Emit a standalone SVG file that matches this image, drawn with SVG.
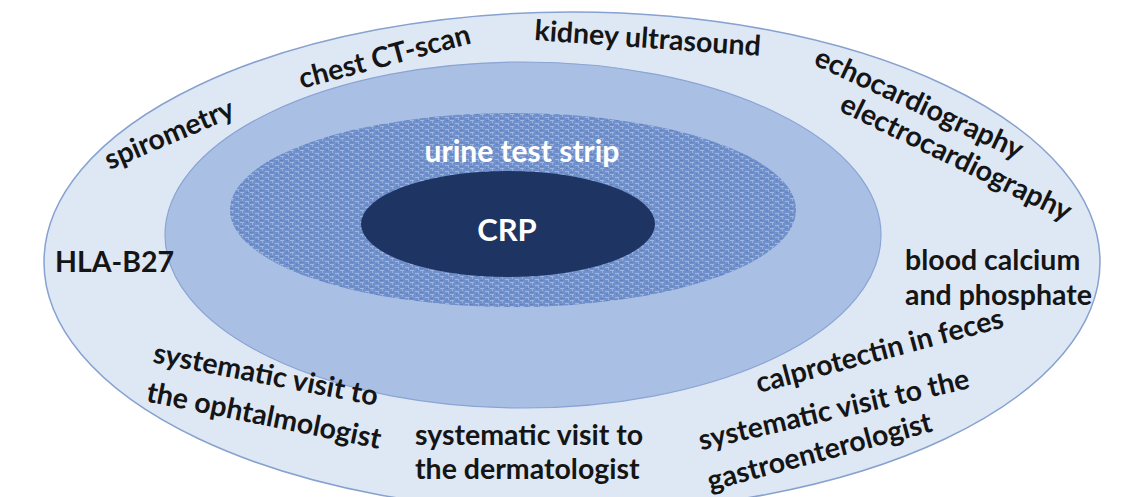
<svg xmlns="http://www.w3.org/2000/svg" width="1138" height="497" viewBox="0 0 1138 497">
<style>
.lbl{font-family:Lato,Carlito,"Open Sans",sans-serif;font-weight:bold;font-size:28.5px;fill:#151515}
.wht{font-family:Lato,Carlito,"Open Sans",sans-serif;font-weight:bold;fill:#ffffff}
.mid{text-anchor:middle}
</style>
<defs>
<pattern id="tex" width="10" height="6" patternUnits="userSpaceOnUse">
<rect width="10" height="6" fill="#7191cc"/>
<rect x="0" y="0" width="4" height="1" fill="#a0b6e2"/>
<rect x="5" y="3" width="4" height="1" fill="#a0b6e2"/>
<rect x="2" y="1" width="1" height="2" fill="#94aedd"/>
<rect x="8" y="4" width="1" height="2" fill="#94aedd"/>
<rect x="6" y="0" width="2" height="1" fill="#6182bf"/>
<rect x="0" y="4" width="3" height="1" fill="#6182bf"/>
</pattern>
</defs>
<rect width="1138" height="497" fill="#ffffff"/>
<g id="ring-outer">
<ellipse cx="572" cy="262" rx="528" ry="250" fill="#dee8f5" stroke="#87a2cf" stroke-width="1.5"/>
</g>
<g id="ring-middle">
<ellipse cx="523" cy="235" rx="358" ry="173" fill="#aabfe4" stroke="#8aa4d4" stroke-width="1.2"/>
</g>
<g id="ring-inner">
<ellipse cx="513" cy="210" rx="283" ry="97" fill="url(#tex)"/>
<text class="wht mid" x="522" y="162" font-size="30">urine test strip</text>
</g>
<g id="core">
<ellipse cx="508" cy="224" rx="147" ry="53" fill="#1e3462"/>
<text class="wht mid" x="507" y="241" font-size="31">CRP</text>
</g>
<g id="labels">
<text class="lbl mid" transform="translate(173,143) rotate(-23)">spirometry</text>
<text class="lbl mid" transform="translate(387,66) rotate(-15)">chest CT-scan</text>
<text class="lbl mid" transform="translate(647,48) rotate(4)">kidney ultrasound</text>
<text class="lbl mid" transform="translate(915,112) rotate(25)">echocardiography</text>
<text class="lbl mid" transform="translate(952,166) rotate(26)">electrocardiography</text>
<text class="lbl" x="55" y="272" font-size="27">HLA-B27</text>
<text class="lbl" x="905" y="270">blood calcium</text>
<text class="lbl" x="905" y="305">and phosphate</text>
<text class="lbl mid" transform="translate(882,360) rotate(-15)">calprotectin in feces</text>
<text class="lbl mid" transform="translate(836,419) rotate(-13)">systematic visit to the</text>
<text class="lbl mid" transform="translate(822,461) rotate(-15)">gastroenterologist</text>
<text class="lbl" x="415" y="445">systematic visit to</text>
<text class="lbl" x="415" y="479">the dermatologist</text>
<text class="lbl mid" transform="translate(264,384) rotate(11)">systematic visit to</text>
<text class="lbl mid" transform="translate(262,425) rotate(11.5)">the ophtalmologist</text>
</g>
</svg>
